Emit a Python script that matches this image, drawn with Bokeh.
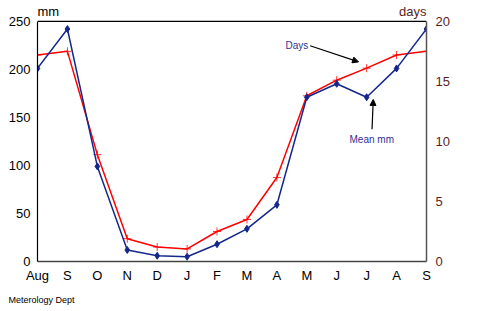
from bokeh.plotting import figure
from bokeh.models import Range1d, LinearAxis, FixedTicker, Label, Arrow, NormalHead, Span, Title
from bokeh.embed import file_html
from bokeh.resources import INLINE

months = ["Aug", "S", "O", "N", "D", "J", "F", "M", "A", "M", "J", "J", "A", "S"]
mean_mm = [201, 242, 99, 12, 6, 5, 18, 34, 59, 171, 185, 171, 201, 242]
days = [17.2, 17.5, 8.9, 1.9, 1.2, 1.05, 2.5, 3.5, 7.0, 13.8, 15.1, 16.1, 17.2, 17.5]
mm_ticks = [0, 50, 100, 150, 200, 250]
day_ticks = [0, 5, 10, 15, 20]
MM_MAX = 250
DAYS_MAX = 20

FONT = "Liberation Sans"
BLUE = "#14288c"
RED = "#ff0000"
BROWN = "#5a1e1e"

# layout: frame reaches canvas top so labels above the plot box stay visible
TOP_PAD = 21      # px between canvas top and the plot box
BOX_H = 242       # px height of the plot box
scale = (BOX_H + TOP_PAD) / BOX_H
mm_end = MM_MAX * scale
days_end = DAYS_MAX * scale

xs = list(range(len(months)))

p = figure(width=469, height=311, output_backend="svg", toolbar_location=None,
           x_range=Range1d(0, len(months) - 1), y_range=Range1d(0, mm_end),
           min_border_left=37, min_border_top=0, min_border_right=43, min_border_bottom=48)
p.extra_y_ranges = {"days": Range1d(0, days_end)}
p.xgrid.visible = False
p.ygrid.visible = False
p.outline_line_color = None
p.background_fill_color = "white"
p.border_fill_color = "white"

# axes
p.yaxis.ticker = FixedTicker(ticks=mm_ticks)
p.yaxis.bounds = (0, MM_MAX)
p.yaxis.major_tick_line_color = None
p.yaxis.minor_tick_line_color = None
p.yaxis.major_tick_out = 0
p.yaxis.major_tick_in = 0
p.yaxis.major_label_standoff = 7
p.yaxis.major_label_text_font = FONT
p.yaxis.major_label_text_font_size = "13px"
p.yaxis.major_label_text_color = "black"
p.yaxis.axis_line_color = "black"
p.yaxis.axis_line_width = 1.2

p.xaxis.ticker = FixedTicker(ticks=xs)
p.xaxis.major_label_overrides = {i: m for i, m in enumerate(months)}
p.xaxis.major_tick_line_color = None
p.xaxis.minor_tick_line_color = None
p.xaxis.major_tick_out = 0
p.xaxis.major_tick_in = 0
p.xaxis.major_label_standoff = 6
p.xaxis.major_label_text_font = FONT
p.xaxis.major_label_text_font_size = "13px"
p.xaxis.major_label_text_color = "black"
p.xaxis.axis_line_color = "#444444"
p.xaxis.axis_line_width = 1.5

ra = LinearAxis(y_range_name="days", ticker=FixedTicker(ticks=day_ticks), bounds=(0, DAYS_MAX))
ra.major_tick_line_color = None
ra.minor_tick_line_color = None
ra.major_tick_out = 0
ra.major_tick_in = 0
ra.major_label_standoff = 9
ra.major_label_text_font = FONT
ra.major_label_text_font_size = "13px"
ra.major_label_text_color = BROWN
ra.axis_line_color = "#555555"
ra.axis_line_width = 1.5
p.add_layout(ra, "right")

# top border of the plot box
p.add_layout(Span(location=MM_MAX, dimension="width", line_color="black", line_width=1.2))

# series
p.line(xs, days, y_range_name="days", line_color=RED, line_width=1.5)
p.scatter(xs, days, y_range_name="days", marker="cross", size=8, line_color=RED, line_width=0.8)
p.line(xs, mean_mm, line_color=BLUE, line_width=1.5)
p.scatter(xs, mean_mm, marker="diamond", size=7, fill_color=BLUE, line_color=BLUE)

# texts
p.add_layout(Label(x=0, y=MM_MAX, text="mm", text_font=FONT, text_font_size="13px",
                   text_color="black", text_align="left", text_baseline="bottom", y_offset=2))
p.add_layout(Label(x=len(months) - 1, y=MM_MAX, text="days", text_font=FONT, text_font_size="13px",
                   text_color=BROWN, text_align="right", text_baseline="bottom", y_offset=2))
p.add_layout(Label(x=8.67, y=224.6, text="Days", text_font=FONT, text_font_size="10px",
                   text_color="#2e3192", text_align="center", text_baseline="middle"))
p.add_layout(Label(x=11.17, y=127, text="Mean mm", text_font=FONT, text_font_size="10px",
                   text_color="#2e3192", text_align="center", text_baseline="middle"))
p.add_layout(Arrow(x_start=9.11, y_start=224.6, x_end=10.73, y_end=207.8,
                   line_color="black", line_width=1.2,
                   end=NormalHead(size=6, fill_color="black", line_color="black")))
p.add_layout(Arrow(x_start=11.18, y_start=137.7, x_end=11.22, y_end=168.7,
                   line_color="black", line_width=1.2,
                   end=NormalHead(size=6, fill_color="black", line_color="black")))

p.add_layout(Title(text="Meterology Dept", align="left", offset=-29, standoff=14,
                   text_font=FONT, text_font_size="9px", text_font_style="normal",
                   text_color="black"), "below")
p.add_layout(Title(text="21", align="right", offset=-46, standoff=-14,
                   text_font="Liberation Serif", text_font_size="10px", text_font_style="normal",
                   text_color="#333333"), "below")

open("out.html", "w").write(file_html(p, INLINE))
